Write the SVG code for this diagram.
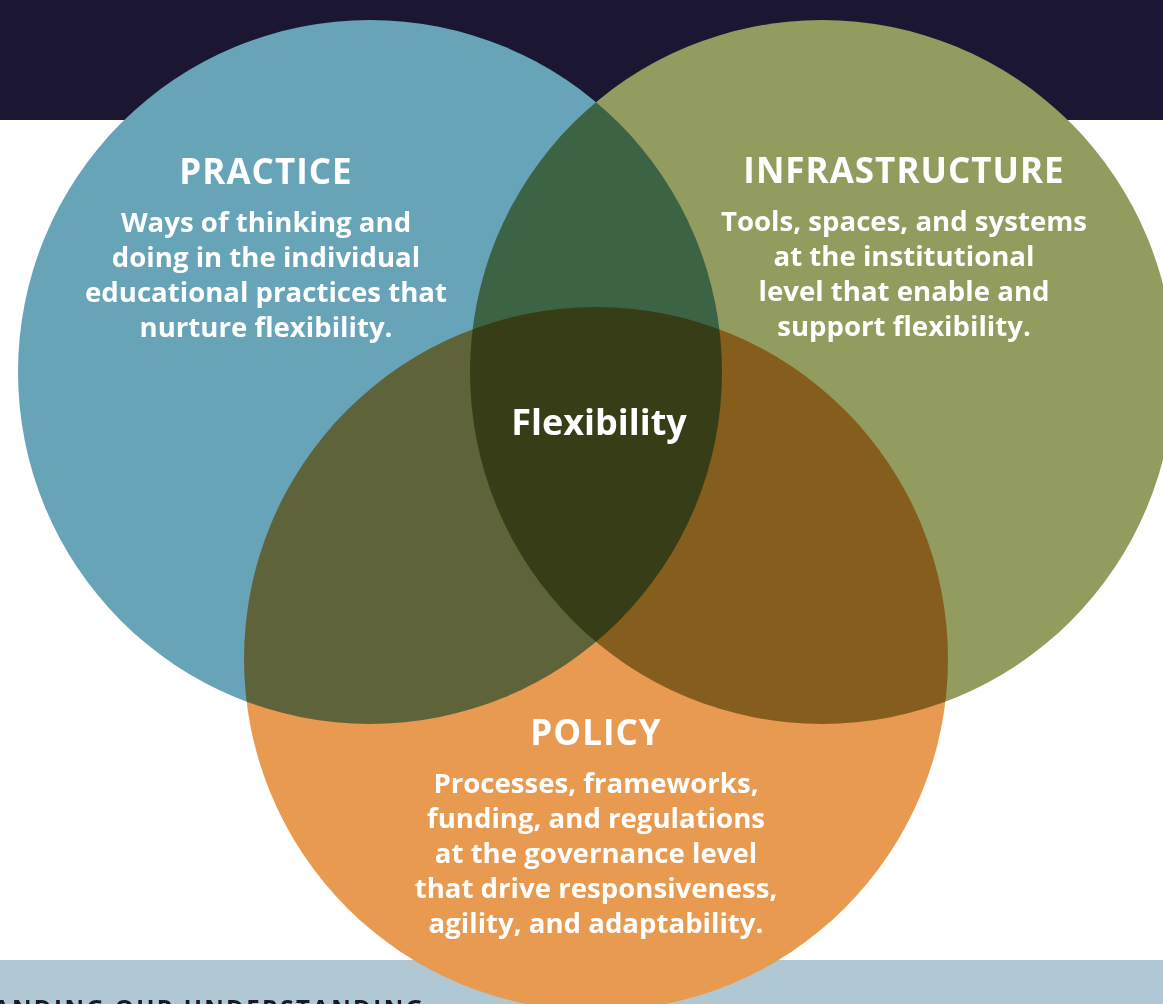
<svg xmlns="http://www.w3.org/2000/svg" width="1163" height="1004" viewBox="0 0 1163 1004">
<style>
.t{font-family:"Open Sans","Liberation Sans",sans-serif;font-weight:700;fill:#fff;text-anchor:middle}
.h{font-size:35px;letter-spacing:1px}
.b{font-size:27.6px}
.f{font-size:36px}
.c{mix-blend-mode:multiply}
</style>
<rect x="0" y="0" width="1163" height="1004" fill="#fff"/>
<rect x="0" y="0" width="1163" height="120" fill="#1B1733"/>
<rect x="0" y="960" width="1163" height="44" fill="#B0C8D3"/>
<text x="-7" y="1017" font-family="Open Sans, Liberation Sans, sans-serif" font-weight="700" font-size="24" letter-spacing="2.4" fill="#1B1733">ANDING OUR UNDERSTANDING</text>
<g style="isolation:isolate">
<g id="practice"><circle class="c" cx="370" cy="372" r="352" fill="#68A4B7"/></g>
<g id="infrastructure"><circle class="c" cx="822" cy="372" r="352" fill="#929C5E"/></g>
<g id="policy"><circle class="c" cx="596" cy="659" r="352" fill="#E89A50"/></g>
</g>
<g id="connectors"/>
<g id="practice-text">
<text class="t h" x="266" y="184">PRACTICE</text>
<text class="t b" x="266" y="232">Ways of thinking and</text>
<text class="t b" x="266" y="267">doing in the individual</text>
<text class="t b" x="266" y="302">educational practices that</text>
<text class="t b" x="266" y="337">nurture flexibility.</text>
</g>
<g id="infrastructure-text">
<text class="t h" x="904" y="183">INFRASTRUCTURE</text>
<text class="t b" x="904" y="231">Tools, spaces, and systems</text>
<text class="t b" x="904" y="266">at the institutional</text>
<text class="t b" x="904" y="301">level that enable and</text>
<text class="t b" x="904" y="336">support flexibility.</text>
</g>
<g id="policy-text">
<text class="t h" x="596" y="745">POLICY</text>
<text class="t b" x="596" y="793">Processes, frameworks,</text>
<text class="t b" x="596" y="828">funding, and regulations</text>
<text class="t b" x="596" y="863">at the governance level</text>
<text class="t b" x="596" y="898">that drive responsiveness,</text>
<text class="t b" x="596" y="933">agility, and adaptability.</text>
</g>
<g id="flexibility">
<text class="t f" x="599" y="435">Flexibility</text>
</g>
</svg>
